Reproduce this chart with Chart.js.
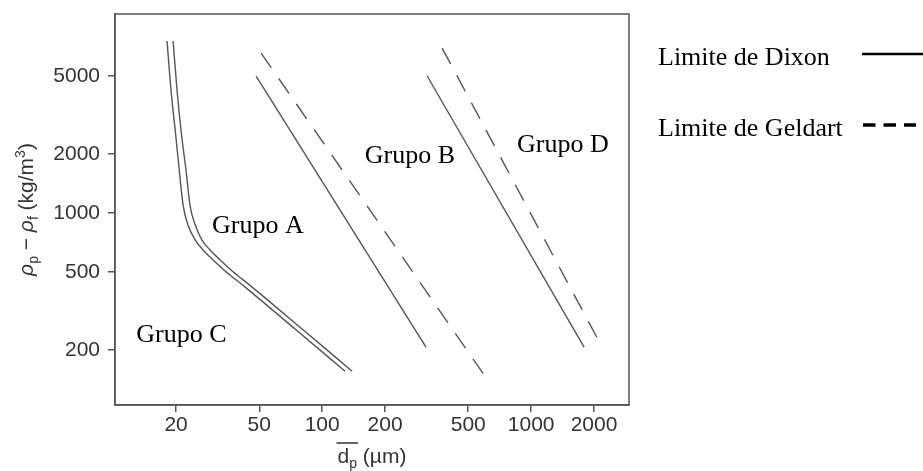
<!DOCTYPE html>
<html lang="pt">
<head>
    <meta charset="UTF-8">
    <title>Diagrama de Geldart</title>
    <script src="https://cdn.jsdelivr.net/npm/chart.js"></script>
    <style>
        body { margin: 0; background: #fff; }
    </style>
</head>
<body>
    <canvas id="geldart" width="923" height="471"></canvas>
    <script>
        // Ticks dos eixos
        const xTicks = [20, 50, 100, 200, 500, 1000, 2000];
        const yTicks = [200, 500, 1000, 2000, 5000];

        // Fronteira C/A (linha dupla)
        const limiteCA1X = [18.1, 18.9, 19.8, 20.7, 21.6, 22.8, 24.7, 26.9, 30.1, 34.3, 42.8, 74.2, 128.7];
        const limiteCA1Y = [7545, 4241, 2651, 1657, 1098, 869, 728, 648, 576, 506, 419, 256, 156];
        const limiteCA2X = [19.35, 20.2, 21.1, 22.3, 23.3, 24.7, 26.6, 29.1, 32.5, 37.1, 46.2, 80.2, 139.1];
        const limiteCA2Y = [7545, 4241, 2651, 1657, 1098, 869, 728, 648, 576, 506, 419, 256, 156];

        // Limites A/B e B/D
        const dixonABX = [48.3, 314];
        const dixonABY = [5000, 207];
        const geldartABX = [51.0, 602];
        const geldartABY = [6550, 147];
        const dixonBDX = [318, 1792];
        const dixonBDY = [5000, 207];
        const geldartBDX = [375, 2160];
        const geldartBDY = [6945, 212];

        // Rótulos dos grupos (canto inferior esquerdo do texto, em unidades dos eixos)
        const groupNames = ['Grupo A', 'Grupo B', 'Grupo C', 'Grupo D'];
        const groupX = [29.7, 160, 12.9, 856];
        const groupY = [790, 1799, 220, 2048];

        const legendLabels = ['Limite de Dixon', 'Limite de Geldart'];

        function toPoints(xs, ys) {
            return xs.map((v, i) => ({ x: v, y: ys[i] }));
        }

        const lineColor = '#555';
        const textColor = '#333';
        const sans = '"Liberation Sans", Arial, sans-serif';
        const serif = '"Liberation Serif", "Times New Roman", serif';

        function line(xs, ys, dashed, smooth) {
            return {
                data: toPoints(xs, ys),
                showLine: true,
                borderColor: lineColor,
                borderWidth: 1.4,
                borderDash: dashed ? [18, 13] : [],
                pointRadius: 0,
                cubicInterpolationMode: smooth ? 'monotone' : 'default',
                tension: smooth ? 0.4 : 0,
                fill: false
            };
        }

        // desenha uma sequência de pedaços de texto (com índices) centrada em x=0
        function drawPieces(ctx, pieces) {
            let total = 0;
            pieces.forEach(p => { ctx.font = p.f; p.w = ctx.measureText(p.t).width; total += p.w; });
            let x = -total / 2;
            pieces.forEach(p => {
                ctx.font = p.f;
                ctx.fillText(p.t, x, p.dy);
                p.x = x;
                x += p.w;
            });
            return pieces;
        }

        const annotations = {
            id: 'annotations',
            afterDraw(chart) {
                const { ctx, chartArea: a, scales: { x, y } } = chart;
                ctx.save();

                // moldura do gráfico
                ctx.strokeStyle = lineColor;
                ctx.lineWidth = 1.5;
                ctx.strokeRect(a.left, a.top, a.right - a.left, a.bottom - a.top);

                // nomes dos grupos
                ctx.fillStyle = '#000';
                ctx.font = '26px ' + serif;
                ctx.textAlign = 'left';
                ctx.textBaseline = 'alphabetic';
                groupNames.forEach((n, i) => {
                    ctx.fillText(n, x.getPixelForValue(groupX[i]), y.getPixelForValue(groupY[i]));
                });

                // legenda
                ctx.fillText(legendLabels[0], 658, 65);
                ctx.fillText(legendLabels[1], 658, 136);
                ctx.strokeStyle = '#000';
                ctx.lineWidth = 2.5;
                ctx.beginPath();
                ctx.moveTo(862, 54);
                ctx.lineTo(923, 54);
                ctx.stroke();
                ctx.lineWidth = 3.5;
                ctx.setLineDash([12.5, 8]);
                ctx.beginPath();
                ctx.moveTo(863, 125);
                ctx.lineTo(916, 125);
                ctx.stroke();
                ctx.setLineDash([]);

                // título do eixo y
                ctx.fillStyle = textColor;
                ctx.save();
                ctx.translate(33, (a.top + a.bottom) / 2);
                ctx.rotate(-Math.PI / 2);
                drawPieces(ctx, [
                    { t: 'ρ', f: 'italic 21px ' + sans, dy: 0 },
                    { t: 'p', f: '14px ' + sans, dy: 5 },
                    { t: ' − ', f: '21px ' + sans, dy: 0 },
                    { t: 'ρ', f: 'italic 21px ' + sans, dy: 0 },
                    { t: 'f', f: '14px ' + sans, dy: 5 },
                    { t: ' (kg/m', f: '21px ' + sans, dy: 0 },
                    { t: '3', f: '14px ' + sans, dy: -8 },
                    { t: ')', f: '21px ' + sans, dy: 0 }
                ]);
                ctx.restore();

                // título do eixo x
                ctx.save();
                ctx.translate((a.left + a.right) / 2, 463);
                const px = drawPieces(ctx, [
                    { t: 'd', f: '21px ' + sans, dy: 0 },
                    { t: 'p', f: '14px ' + sans, dy: 5 },
                    { t: ' (µm)', f: '21px ' + sans, dy: 0 }
                ]);
                ctx.strokeStyle = textColor;
                ctx.lineWidth = 1.5;
                ctx.beginPath();
                ctx.moveTo(px[0].x - 1, -20);
                ctx.lineTo(px[1].x + px[1].w + 1, -20);
                ctx.stroke();
                ctx.restore();

                ctx.restore();
            }
        };

        function axis(min, max, ticks, fit) {
            return {
                type: 'logarithmic',
                min: min,
                max: max,
                afterBuildTicks: s => { s.ticks = ticks.map(v => ({ value: v })); },
                afterFit: s => {
                    fit(s);
                    s.paddingTop = 0;
                    s.paddingBottom = 0;
                    s.paddingLeft = 0;
                    s.paddingRight = 0;
                },
                grid: {
                    drawOnChartArea: false,
                    drawTicks: true,
                    tickLength: 7,
                    color: lineColor,
                    lineWidth: 1.5
                },
                border: { display: true, color: lineColor, width: 1.5 },
                ticks: {
                    callback: v => String(v),
                    color: textColor,
                    font: { family: sans, size: 21 },
                    maxRotation: 0,
                    autoSkip: false
                }
            };
        }

        const xAxis = axis(10.2, 2940, xTicks, s => { s.height = 66; });
        xAxis.ticks.padding = 1;
        const yAxis = axis(104.9, 10360, yTicks, s => { s.width = 115; });
        yAxis.ticks.padding = 8;

        new Chart(document.getElementById('geldart'), {
            type: 'scatter',
            data: {
                datasets: [
                    line(limiteCA1X, limiteCA1Y, false, true),
                    line(limiteCA2X, limiteCA2Y, false, true),
                    line(dixonABX, dixonABY, false),
                    line(geldartABX, geldartABY, true),
                    line(dixonBDX, dixonBDY, false),
                    line(geldartBDX, geldartBDY, true)
                ]
            },
            options: {
                responsive: false,
                animation: false,
                devicePixelRatio: 1,
                layout: { padding: { left: 0, top: 14, right: 294, bottom: 0 } },
                scales: { x: xAxis, y: yAxis },
                plugins: {
                    legend: { display: false },
                    tooltip: { enabled: false }
                }
            },
            plugins: [annotations]
        });
    </script>
</body>
</html>
